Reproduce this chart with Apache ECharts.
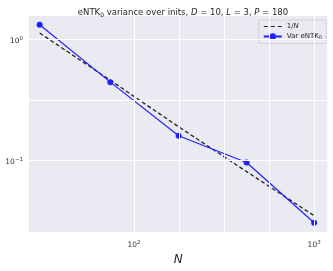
<!DOCTYPE html>
<html>
<head>
<meta charset="utf-8">
<script src="https://cdn.jsdelivr.net/npm/echarts@6/dist/echarts.min.js"></script>
<style>html,body{margin:0;padding:0;background:#fff}#c{width:333px;height:271px}</style>
</head>
<body>
<div id="c"></div>
<script>
// ---- data ----
var nValues = [30, 74, 177, 422, 1000];
var varValues = [1.32, 0.444, 0.160, 0.0964, 0.0306];
var refValues = [1.13, 0.46, 0.19, 0.081, 0.035];
var xTickExps = [2, 3];
var yTickExps = [0, -1];
var xGridExps = [2, 2.25, 2.5, 2.75, 3];
var yGridExps = [0, -0.5, -1];

var L = Math.log10;
var FONT = 'DejaVu Sans';
var supRich = {
  b: {fontSize: 7.5, fontFamily: FONT, color: '#333', lineHeight: 12, verticalAlign: 'bottom'},
  s: {fontSize: 5.5, fontFamily: FONT, color: '#333', lineHeight: 12, verticalAlign: 'bottom', padding: [0, 0, 4, 0]}
};
function powFmt(v) {
  var e = Math.round(v);
  if (Math.abs(v - e) > 1e-6) return '';
  return '{b|10}{s|' + (e < 0 ? '\u2212' + (-e) : e) + '}';
}
function pairs(xs, ys) { return xs.map(function (x, i) { return [L(x), L(ys[i])]; }); }

var chart = echarts.init(document.getElementById('c'), null, {renderer: 'canvas'});
chart.setOption({
  backgroundColor: '#ffffff',
  animation: false,
  title: {
    left: 178, textAlign: 'center', top: 3,
    text: '{a|eNTK}{s|0}{a| variance over inits, }{i|D}{a| = 10, }{i|L}{a| = 3, }{i|P}{a| = 180}',
    textStyle: {
      fontWeight: 'normal',
      rich: {
        a: {fontSize: 8.5, fontFamily: FONT, fontWeight: 'normal', color: '#262626'},
        i: {fontSize: 8.5, fontFamily: FONT, fontWeight: 'normal', fontStyle: 'italic', color: '#262626'},
        s: {fontSize: 6, fontFamily: FONT, fontWeight: 'normal', color: '#262626', verticalAlign: 'bottom', padding: [4, 0, 0, 0]}
      }
    }
  },
  grid: {left: 29, right: 5.7, top: 16, bottom: 33.7, show: true, backgroundColor: '#EAEAF2', borderWidth: 0},
  legend: {
    right: 7, top: 20, orient: 'vertical', itemGap: 3, itemWidth: 18, itemHeight: 8,
    padding: [3, 4, 3, 4],
    backgroundColor: 'rgba(234,234,242,0.85)', borderColor: '#cccccc', borderWidth: 0.8, borderRadius: 2,
    data: [
      {name: '1/N', icon: 'path://M0,4L4,4L4,5L0,5ZM7,4L11,4L11,5L7,5ZM14,4L18,4L18,5L14,5Z', itemStyle: {color: '#222'}},
      {name: 'Var eNTK0'}
    ],
    formatter: function (n) {
      return n === '1/N' ? '{a|1/}{i|N}' : '{a|Var eNTK}{s|0}';
    },
    textStyle: {
      rich: {
        a: {fontSize: 7, fontFamily: FONT, color: '#262626'},
        i: {fontSize: 7, fontFamily: FONT, fontStyle: 'italic', color: '#262626'},
        s: {fontSize: 5, fontFamily: FONT, color: '#262626', verticalAlign: 'bottom', padding: [3, 0, 0, 0]}
      }
    }
  },
  xAxis: {
    type: 'value', min: 1.418, max: 3.073,
    name: 'N', nameLocation: 'middle', nameGap: 16,
    nameTextStyle: {fontSize: 12, fontStyle: 'italic', fontFamily: FONT, color: '#262626'},
    axisLine: {show: false}, axisTick: {show: false}, splitLine: {show: false},
    axisLabel: {customValues: xTickExps, formatter: powFmt, margin: 5, rich: supRich}
  },
  yAxis: {
    type: 'value', min: -1.591, max: 0.1935,
    axisLine: {show: false}, axisTick: {show: false}, splitLine: {show: false},
    axisLabel: {customValues: yTickExps, formatter: powFmt, margin: 6, rich: supRich}
  },
  series: [
    {
      name: 'grid', type: 'line', data: [], silent: true, z: 0,
      markLine: {
        silent: true, symbol: 'none', label: {show: false},
        lineStyle: {color: '#ffffff', width: 1, type: 'solid'},
        data: xGridExps.map(function (v) { return {xAxis: v}; })
          .concat(yGridExps.map(function (v) { return {yAxis: v}; }))
      }
    },
    {
      name: '1/N', type: 'line', data: pairs(nValues, refValues), showSymbol: false, symbol: 'none',
      lineStyle: {color: '#222', width: 1.3, type: [4, 2.5]}, itemStyle: {color: '#222'}, z: 3
    },
    {
      name: 'Var eNTK0', type: 'line', data: pairs(nValues, varValues), symbol: 'circle', symbolSize: 6,
      lineStyle: {color: '#1f1fff', width: 1.2}, itemStyle: {color: '#1f1fff'}, z: 4
    }
  ]
});
</script>
</body>
</html>
